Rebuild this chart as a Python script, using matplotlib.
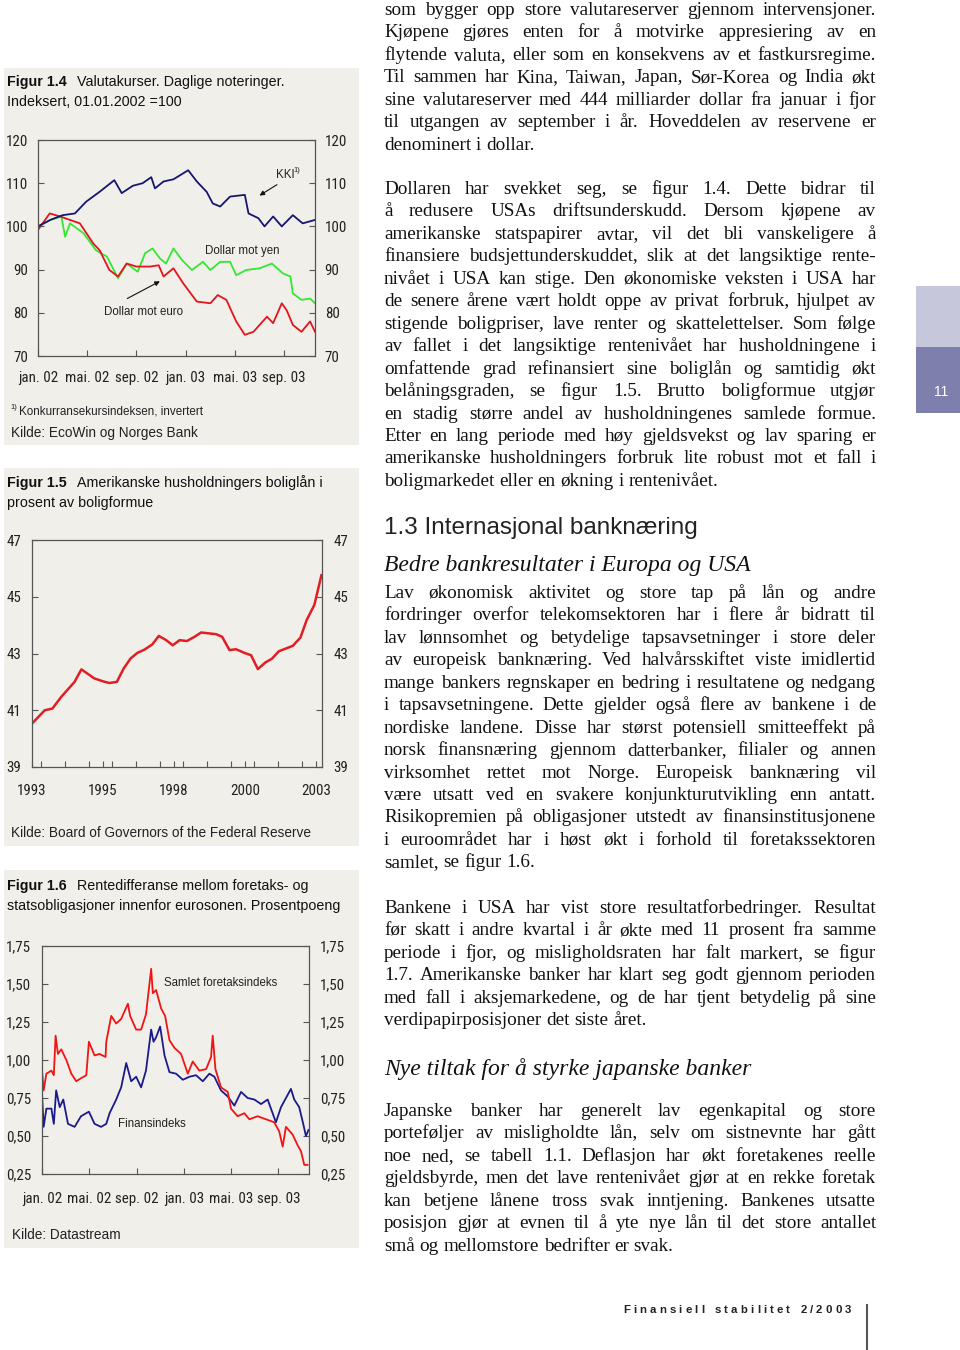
import matplotlib
matplotlib.use('Agg')
import matplotlib.pyplot as plt
import matplotlib.font_manager as fm
from matplotlib.patches import Rectangle
from matplotlib.ticker import MultipleLocator

# ---------------- data ----------------
# Figur 1.4: months since jan. 2002, index 01.01.2002 = 100
kki_m = [0, 1, 2, 3, 3.9, 5, 6.2, 6.8, 7.7, 8.5, 9.2, 9.5, 10.2, 11, 12.2, 12.9,
         13.7, 14.2, 14.8, 15.6, 16.8, 17.1, 17.9, 18.4, 19.1, 19.8, 20.7, 21.5, 22.5]
kki_v = [100, 101.5, 102.6, 103, 105.7, 108, 110.7, 107.7, 109.4, 110, 111.4, 108.8,
         110.4, 110.9, 113, 110.4, 108, 105.3, 104.6, 106.9, 107.3, 103, 101.9, 100,
         102.3, 100, 102.6, 100.7, 101.5]
yen_m = [0, 1, 1.9, 2.2, 2.6, 3.7, 4.7, 5.6, 6.5, 7.2, 8.1, 8.7, 9.3, 9.9, 10.4, 11,
         11.7, 12.5, 13.4, 14, 14.8, 15.6, 16.1, 16.9, 18, 19, 19.9, 20.5, 20.7, 21.4,
         22.1, 22.5]
yen_v = [100, 101.5, 102.3, 97.6, 100.7, 98.4, 94.5, 93, 88, 91.4, 89.5, 93.8, 94.9,
         92.6, 91.4, 94.9, 92.2, 89.9, 91.8, 89.9, 91.8, 91.8, 88.7, 89.9, 90.3, 91.4,
         89.1, 88.4, 84.5, 83, 83.3, 82.2]
eur_m = [0, 0.95, 1.8, 2.6, 3.4, 4.5, 5, 5.8, 6.5, 7.2, 8, 9.1, 9.8, 10.2, 11, 11.8,
         12.9, 14, 14.6, 15.3, 16.1, 16.8, 17.5, 18.6, 19.1, 19.8, 20.2, 20.7, 21.4,
         22.1, 22.5]
eur_v = [99.2, 103, 102.3, 101.5, 100.7, 96, 94.5, 89.9, 88.4, 91.4, 90.7, 90.7, 91,
         88.4, 90.3, 86.8, 82.6, 82.2, 84.1, 83, 78, 74.9, 75.6, 79.1, 77.6, 82.2, 80.6,
         77.2, 75.6, 78, 75.6]
month_ticks = [0, 4, 8, 12, 16, 20]
month_labels = ['jan. 02', 'mai. 02', 'sep. 02', 'jan. 03', 'mai. 03', 'sep. 03']

# Figur 1.5: boliglån i prosent av boligformue
bol_year = [1993.0, 1993.45, 1993.72, 1994.03, 1994.5, 1994.74, 1995.2, 1995.5, 1995.73,
            1995.99, 1996.23, 1996.47, 1996.71, 1996.97, 1997.24, 1997.47, 1997.73,
            1997.96, 1998.2, 1998.46, 1998.73, 1998.96, 1999.23, 1999.49, 1999.7,
            1999.96, 2000.19, 2000.49, 2000.72, 2000.96, 2001.22, 2001.46, 2001.7,
            2001.96, 2002.19, 2002.46, 2002.68, 2002.95, 2003.2]
bol_val = [40.53, 41.0, 41.06, 41.47, 42.0, 42.44, 42.12, 42.02, 41.96, 42.0, 42.47,
           42.82, 43.02, 43.14, 43.32, 43.62, 43.47, 43.29, 43.47, 43.44, 43.59, 43.74,
           43.71, 43.68, 43.59, 43.12, 43.15, 43.02, 42.94, 42.45, 42.68, 42.82, 43.08,
           43.18, 43.27, 43.56, 44.18, 44.71, 45.76]
year_ticks = [1993, 1995.5, 1998, 2000.5, 2003]
year_labels = ['1993', '1995', '1998', '2000', '2003']

# Figur 1.6: rentedifferanse, prosentpoeng
sam_m = [0, 0.14, 0.37, 0.8, 1.0, 1.15, 1.35, 1.63, 2.06, 2.48, 2.9, 3.3, 3.75, 3.97,
         4.45, 4.87, 5.38, 5.44, 5.86, 6.28, 6.7, 7.27, 7.46, 7.97, 8.39, 8.8, 9.24,
         9.38, 9.66, 10.08, 10.42, 10.79, 11.21, 11.77, 12.34, 12.76, 13.32, 13.89,
         14.31, 14.45, 14.68, 15.15, 15.72, 16.0, 16.56, 17.13, 17.55, 18.25, 18.96,
         19.66, 20.08, 20.37, 20.65, 21.21, 21.63, 21.92, 22.2, 22.48]
sam_v = [0.93, 0.80, 0.91, 0.93, 0.90, 1.16, 1.04, 1.07, 1.00, 0.91, 0.86, 0.88, 0.90,
         1.12, 1.03, 1.04, 1.02, 1.12, 1.29, 1.24, 1.27, 1.37, 1.29, 1.20, 1.20, 1.30,
         1.60, 1.44, 1.46, 1.34, 1.29, 1.13, 1.08, 1.04, 0.91, 0.99, 0.93, 0.94, 1.02,
         1.16, 0.94, 0.82, 0.79, 0.68, 0.63, 0.65, 0.61, 0.63, 0.61, 0.59, 0.53, 0.43,
         0.56, 0.51, 0.44, 0.40, 0.31, 0.31]
fin_m = [0, 0.14, 0.37, 0.8, 1.0, 1.2, 1.5, 1.8, 2.2, 2.76, 3.3, 3.97, 4.45, 5.0, 5.44,
         5.72, 6.28, 6.7, 7.13, 7.55, 7.97, 8.39, 8.8, 9.24, 9.44, 9.66, 10.0, 10.37,
         10.79, 11.35, 11.92, 12.48, 13.04, 13.61, 14.17, 14.59, 15.15, 15.72, 16.28,
         16.85, 17.41, 17.97, 18.54, 19.1, 19.8, 20.23, 20.65, 21.07, 21.35, 21.77,
         22.11, 22.34, 22.56]
fin_v = [0.78, 0.56, 0.68, 0.68, 0.58, 0.80, 0.69, 0.74, 0.58, 0.56, 0.63, 0.66, 0.58,
         0.56, 0.58, 0.65, 0.74, 0.82, 0.98, 0.86, 0.89, 0.82, 0.93, 1.20, 1.12, 1.15,
         1.22, 1.03, 0.92, 0.91, 0.87, 0.89, 0.90, 0.86, 0.91, 0.89, 0.80, 0.76, 0.70,
         0.79, 0.75, 0.74, 0.71, 0.74, 0.59, 0.69, 0.75, 0.81, 0.74, 0.69, 0.58, 0.50,
         0.54]
spread_ticks = [0.25, 0.50, 0.75, 1.00, 1.25, 1.50, 1.75]
spread_labels = ['0,25', '0,50', '0,75', '1,00', '1,25', '1,50', '1,75']

# running text, one list per paragraph (line breaks as on the page)
para1 = ["som bygger opp store valutareserver gjennom intervensjoner.",
         "Kjøpene gjøres enten for å motvirke appresiering av en",
         "flytende valuta, eller som en konsekvens av et fastkursregime.",
         "Til sammen har Kina, Taiwan, Japan, Sør-Korea og India økt",
         "sine valutareserver med 444 milliarder dollar fra januar i fjor",
         "til utgangen av september i år. Hoveddelen av reservene er",
         "denominert i dollar."]
para2 = ["Dollaren har svekket seg, se figur 1.4. Dette bidrar til",
         "å redusere USAs driftsunderskudd. Dersom kjøpene av",
         "amerikanske statspapirer avtar, vil det bli vanskeligere å",
         "finansiere budsjettunderskuddet, slik at det langsiktige rente-",
         "nivået i USA kan stige. Den økonomiske veksten i USA har",
         "de senere årene vært holdt oppe av privat forbruk, hjulpet av",
         "stigende boligpriser, lave renter og skattelettelser. Som følge",
         "av fallet i det langsiktige rentenivået har husholdningene i",
         "omfattende grad refinansiert sine boliglån og samtidig økt",
         "belåningsgraden, se figur 1.5. Brutto boligformue utgjør",
         "en stadig større andel av husholdningenes samlede formue.",
         "Etter en lang periode med høy gjeldsvekst og lav sparing er",
         "amerikanske husholdningers forbruk lite robust mot et fall i",
         "boligmarkedet eller en økning i rentenivået."]
para3 = ["Lav økonomisk aktivitet og store tap på lån og andre",
         "fordringer overfor telekomsektoren har i flere år bidratt til",
         "lav lønnsomhet og betydelige tapsavsetninger i store deler",
         "av europeisk banknæring. Ved halvårsskiftet viste imidlertid",
         "mange bankers regnskaper en bedring i resultatene og nedgang",
         "i tapsavsetningene. Dette gjelder også flere av bankene i de",
         "nordiske landene. Disse har størst potensiell smitteeffekt på",
         "norsk finansnæring gjennom datterbanker, filialer og annen",
         "virksomhet rettet mot Norge. Europeisk banknæring vil",
         "være utsatt ved en svakere konjunkturutvikling enn antatt.",
         "Risikopremien på obligasjoner utstedt av finansinstitusjonene",
         "i euroområdet har i høst økt i forhold til foretakssektoren",
         "samlet, se figur 1.6."]
para4 = ["Bankene i USA har vist store resultatforbedringer. Resultat",
         "før skatt i andre kvartal i år økte med 11 prosent fra samme",
         "periode i fjor, og misligholdsraten har falt markert, se figur",
         "1.7. Amerikanske banker har klart seg godt gjennom perioden",
         "med fall i aksjemarkedene, og de har tjent betydelig på sine",
         "verdipapirposisjoner det siste året."]
para5 = ["Japanske banker har generelt lav egenkapital og store",
         "porteføljer av misligholdte lån, selv om sistnevnte har gått",
         "noe ned, se tabell 1.1. Deflasjon har økt foretakenes reelle",
         "gjeldsbyrde, men det lave rentenivået gjør at en rekke foretak",
         "kan betjene lånene tross svak inntjening. Bankenes utsatte",
         "posisjon gjør at evnen til å yte nye lån til det store antallet",
         "små og mellomstore bedrifter er svak."]

# ---------------- fonts ----------------
SANS = ['Liberation Sans', 'DejaVu Sans']
SERIF = ['Liberation Serif', 'DejaVu Serif']


def find_narrow():
    # a condensed sans face for the tick labels, if one is installed
    prefs = ['Liberation Sans', 'Roboto', 'Noto Sans', 'Open Sans', 'DejaVu Sans', 'Inter', 'Lato']
    best = None
    for f in fm.fontManager.ttflist:
        nm = f.name
        if 'Serif' in nm or 'Mono' in nm or f.style != 'normal':
            continue
        if f.weight not in (400, 'normal', 'regular', 'book'):
            continue
        narrow = ('Narrow' in nm or 'Condensed' in nm or 'Narrow' in f.fname
                  or 'Condensed' in f.fname
                  or f.stretch in ('condensed', 'semi-condensed', 'extra-condensed'))
        if 'SemiCondensed' in f.fname or 'ExtraCondensed' in f.fname:
            continue
        if not narrow:
            continue
        rank = next((i for i, p in enumerate(prefs) if nm.startswith(p)), 99)
        if best is None or rank < best[0]:
            best = (rank, f.fname)
    return best[1] if best else None


narrow_file = find_narrow()
if narrow_file:
    TICKFONT = fm.FontProperties(fname=narrow_file, size=10.8)
else:
    TICKFONT = fm.FontProperties(family='Liberation Sans', size=9.0)

# ---------------- page setup ----------------
W, H = 960, 1350
BG = '#f1efea'
AXC = '#555555'

fig = plt.figure(figsize=(9.6, 13.5), dpi=100)
fig.patch.set_facecolor('white')
renderer = fig.canvas.get_renderer()


def fx(x):
    return x / W


def fy(y):
    return 1 - y / H


def ptext(x, y, s, **kw):
    return fig.text(fx(x), fy(y), s, **kw)


def box(x0, y0, x1, y1, color):
    fig.add_artist(Rectangle((fx(x0), fy(y1)), (x1 - x0) / W, (y1 - y0) / H,
                             transform=fig.transFigure, facecolor=color,
                             edgecolor='none', zorder=0))


def chart_axes(l, t, r, b, ypad, xpad):
    ax = fig.add_axes([fx(l), fy(b), (r - l) / W, (b - t) / H])
    ax.set_facecolor('none')
    for sp in ax.spines.values():
        sp.set_color(AXC)
        sp.set_linewidth(0.9)
    ax.tick_params(axis='y', which='both', direction='in', left=True, right=True,
                   labelleft=True, labelright=True, length=4, width=0.8,
                   color=AXC, pad=ypad, labelcolor='#222222')
    ax.tick_params(axis='x', which='both', direction='in', top=False, length=4,
                   width=0.8, color=AXC, pad=xpad, labelcolor='#222222')
    return ax


def tick_fonts(ax):
    for tk in ax.xaxis.get_major_ticks() + ax.yaxis.get_major_ticks():
        tk.label1.set_fontproperties(TICKFONT)
        tk.label2.set_fontproperties(TICKFONT)


def fig_title(y, num, line1, line2):
    t = ptext(7, y, num, family=SANS, weight='bold', size=10.3, va='center',
              color='#111111')
    w = t.get_window_extent(renderer).width
    ptext(max(77, 7 + w + 9), y, line1, family=SANS, size=10.3, va='center',
          color='#111111')
    ptext(7, y + 20, line2, family=SANS, size=10.3, va='center', color='#111111')


# panel backgrounds
box(4, 68, 359, 445, BG)
box(4, 468, 359, 846, BG)
box(4, 870, 359, 1248, BG)

# ---------------- Figur 1.4 ----------------
fig_title(82, 'Figur 1.4', 'Valutakurser. Daglige noteringer.', 'Indeksert, 01.01.2002 =100')
ax1 = chart_axes(38, 140, 315, 356, ypad=7, xpad=11)
ax1.plot(yen_m, yen_v, color='#33e833', lw=1.3)
ax1.plot(eur_m, eur_v, color='#e3141c', lw=1.3)
ax1.plot(kki_m, kki_v, color='#16166e', lw=1.3)
ax1.set_xlim(0, 22.5)
ax1.set_ylim(70, 120)
ax1.set_yticks([70, 80, 90, 100, 110, 120])
ax1.set_xticks(month_ticks)
ax1.set_xticklabels(month_labels)
tick_fonts(ax1)
arrow = dict(arrowstyle='-|>', color='#111111', lw=0.8, mutation_scale=7)
ax1.annotate('', xy=(17.8, 106.8), xytext=(19.6, 110.0), arrowprops=arrow)
ax1.annotate('', xy=(10.1, 87.6), xytext=(7.05, 83.0), arrowprops=arrow)
ptext(276, 175, 'KKI', family=SANS, size=8.3, va='center', color='#222222')
ptext(293, 171, '1)', family=SANS, size=5.5, va='center', color='#222222')
ptext(242, 251, 'Dollar mot yen', family=SANS, size=8.3, ha='center', va='center',
      color='#222222')
ptext(143, 312, 'Dollar mot euro', family=SANS, size=8.3, ha='center', va='center',
      color='#222222')
ptext(10, 408, '1)', family=SANS, size=5.5, va='center', color='#222222')
ptext(19, 411, 'Konkurransekursindeksen, invertert', family=SANS, size=8.4,
      va='center', color='#222222')
ptext(11, 433, 'Kilde: EcoWin og Norges Bank', family=SANS, size=9.8, va='center',
      color='#222222')

# ---------------- Figur 1.5 ----------------
fig_title(483, 'Figur 1.5', 'Amerikanske husholdningers boliglån i', 'prosent av boligformue')
ax2 = chart_axes(32, 540, 322, 767, ypad=8, xpad=12)
ax2.plot(bol_year, bol_val, color='#e01e24', lw=1.8, solid_joinstyle='round')
ax2.set_xlim(1993, 2003.22)
ax2.set_ylim(39, 47)
ax2.set_yticks([39, 41, 43, 45, 47])
ax2.set_xticks(year_ticks)
ax2.set_xticklabels(year_labels)
ax2.xaxis.set_minor_locator(MultipleLocator(2.5 / 3))
tick_fonts(ax2)
ptext(11, 833, 'Kilde: Board of Governors of the Federal Reserve', family=SANS,
      size=9.8, va='center', color='#222222')

# ---------------- Figur 1.6 ----------------
fig_title(886, 'Figur 1.6', 'Rentedifferanse mellom foretaks- og',
          'statsobligasjoner innenfor eurosonen. Prosentpoeng')
ax3 = chart_axes(42, 946, 309, 1174, ypad=8, xpad=13)
ax3.plot(fin_m, fin_v, color='#1a1a8c', lw=1.3)
ax3.plot(sam_m, sam_v, color='#f01414', lw=1.3)
ax3.set_xlim(0, 22.6)
ax3.set_ylim(0.25, 1.75)
ax3.set_yticks(spread_ticks)
ax3.set_yticklabels(spread_labels)
ax3.set_xticks(month_ticks)
ax3.set_xticklabels(month_labels)
tick_fonts(ax3)
ptext(164, 983, 'Samlet foretaksindeks', family=SANS, size=8.3, va='center',
      color='#222222')
ptext(118, 1124, 'Finansindeks', family=SANS, size=8.3, va='center', color='#222222')
ptext(12, 1235, 'Kilde: Datastream', family=SANS, size=9.8, va='center',
      color='#222222')

# ---------------- running text ----------------
X0, X1 = 384, 876
LINE = 22.45


def widths_of(words, kw):
    out = []
    for w in words:
        t = fig.text(0, 0, w, **kw)
        out.append(t.get_window_extent(renderer).width)
        t.remove()
    return out


def put_line(yc, line, last, size=13.8):
    words = line.split(' ')
    while True:
        kw = dict(family=SERIF, size=size, color='#111111', va='baseline')
        ws = widths_of(words, kw)
        space = widths_of(['a a'], kw)[0] - widths_of(['aa'], kw)[0]
        if last or len(words) == 1:
            gap = space
            break
        gap = (X1 - X0 - sum(ws)) / (len(words) - 1)
        if gap >= 0.55 * space or size < 11:
            break
        size -= 0.2
    x = X0
    for w, wd in zip(words, ws):
        ptext(x, yc + 6, w, **kw)
        x += wd + gap


def paragraph(y0, lines):
    for i, line in enumerate(lines):
        put_line(y0 + i * LINE, line, i == len(lines) - 1)


paragraph(9, para1)
paragraph(188, para2)
ptext(384, 528, '1.3 Internasjonal banknæring', family=SANS, size=17.5,
      va='center', color='#222222')
ptext(384, 566, 'Bedre bankresultater i Europa og USA', family=SERIF,
      style='italic', size=17, va='center', color='#111111')
paragraph(592, para3)
paragraph(907, para4)
ptext(384, 1069, 'Nye tiltak for å styrke japanske banker', family=SERIF,
      style='italic', size=17, va='center', color='#111111')
paragraph(1110, para5)

# ---------------- side tab and footer ----------------
box(916, 286, 960, 347, '#c7c7db')
box(916, 347, 960, 413, '#7f7fad')
ptext(941, 392, '11', family=SANS, size=10, ha='center', va='center', color='white')

footer = 'Finansiell stabilitet 2/2003'
fkw = dict(family=SANS, size=8.2, weight='bold', color='#222222', va='center')
cw = widths_of([c if c != ' ' else 'a' for c in footer], fkw)
cw = [w if c != ' ' else w * 0.6 for w, c in zip(cw, footer)]
track = (851 - 623 - sum(cw)) / (len(footer) - 1)
x = 623
for c, w in zip(footer, cw):
    if c != ' ':
        ptext(x, 1310, c, **fkw)
    x += w + track
fig.add_artist(plt.Line2D([fx(867), fx(867)], [fy(1305), fy(1350)],
                          transform=fig.transFigure, color='#555555', lw=1.5))

fig.savefig('out.png', dpi=100, facecolor='white')
